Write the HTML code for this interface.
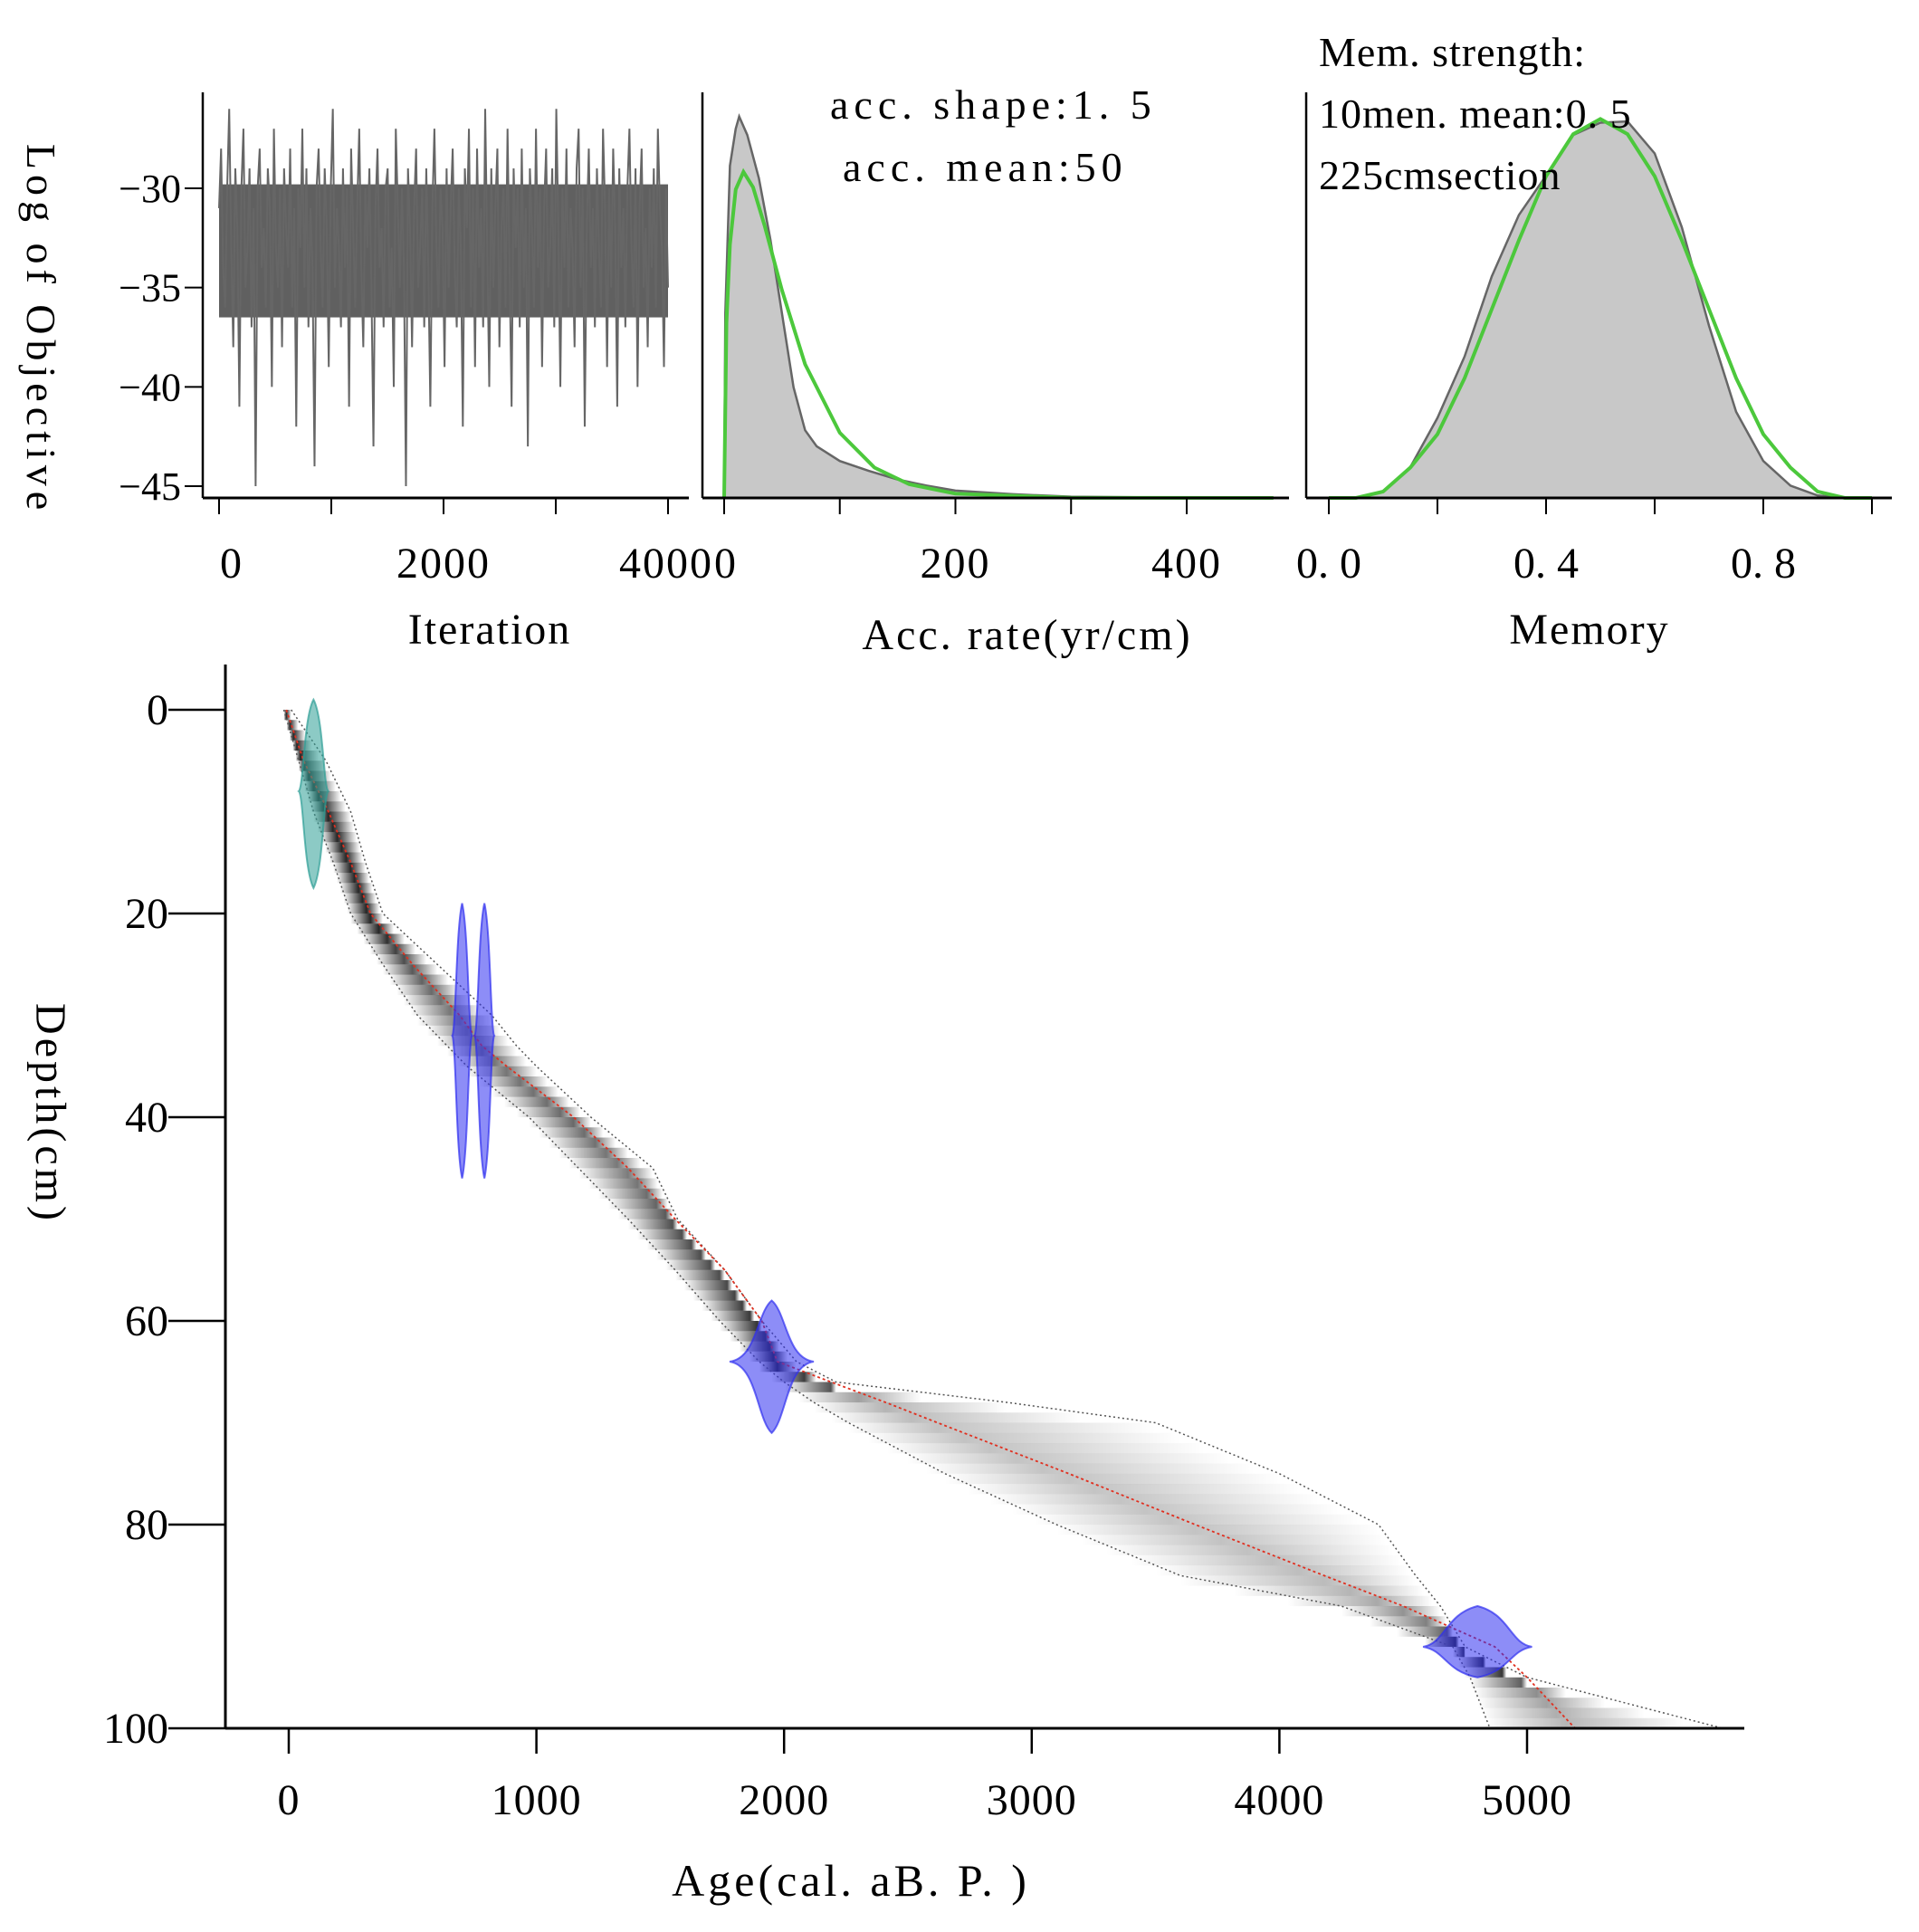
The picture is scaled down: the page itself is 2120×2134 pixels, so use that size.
<!DOCTYPE html>
<html><head><meta charset="utf-8"><style>
html,body{margin:0;padding:0;background:#fff}
svg{display:block;font-family:"Liberation Serif","Noto Serif CJK SC",serif}
</style></head><body>
<svg id="chart" width="2120" height="2134" viewBox="0 0 2120 2134" xmlns="http://www.w3.org/2000/svg">
<defs></defs>
<g id="p1"></g>
<g id="p2"></g>
<g id="p3"></g>
<g id="main"></g>
<text x="917" y="131" font-size="46" letter-spacing="6">acc. shape:1. 5</text>
<text x="931" y="200" font-size="46" letter-spacing="6">acc. mean:50</text>
<text x="1457" y="73" font-size="46" letter-spacing="1">Mem. strength:</text>
<text x="1457" y="141" font-size="46" letter-spacing="1">10men. mean:0. 5</text>
<text x="1457" y="209" font-size="46" letter-spacing="1">225cmsection</text>
<text x="541" y="711" font-size="48" text-anchor="middle" letter-spacing="2">Iteration</text>
<text x="1135" y="717" font-size="48" text-anchor="middle" letter-spacing="3">Acc. rate(yr/cm)</text>
<text x="1756" y="711" font-size="48" text-anchor="middle" letter-spacing="2">Memory</text>
<text transform="translate(30,364) rotate(90)" font-size="46" text-anchor="middle" letter-spacing="6">Log of Objective</text>
<text transform="translate(40,1230) rotate(90)" font-size="48" text-anchor="middle" letter-spacing="4">Depth(cm)</text>
<text x="940" y="2094" font-size="50" text-anchor="middle" letter-spacing="4">Age(cal. aB. P. )</text>
</svg>
<script>
const NS="http://www.w3.org/2000/svg";
// ---- data ----
const traceValues=[-31,-28,-34,-36,-30,-26,-33,-38,-29,-32,-41,-30,-27,-35,-33,-29,-37,-31,-45,-30,-28,-34,-32,-36,-29,-31,-40,-27,-33,-35,-30,-38,-29,-32,-34,-28,-36,-31,-42,-30,-33,-27,-35,-29,-37,-31,-34,-44,-30,-28,-33,-36,-29,-32,-39,-30,-26,-35,-31,-33,-37,-29,-34,-30,-41,-28,-32,-36,-31,-27,-34,-38,-30,-33,-29,-35,-43,-31,-28,-34,-32,-37,-30,-29,-36,-33,-40,-27,-31,-35,-30,-34,-45,-29,-32,-38,-31,-28,-35,-33,-30,-37,-29,-34,-41,-31,-27,-33,-36,-30,-32,-39,-29,-35,-31,-28,-34,-37,-30,-33,-42,-29,
-32,-27,-36,-30,-39,-28,-34,-31,-37,-26,-33,-40,-29,-35,-31,-28,-38,-32,-30,-36,-27,-34,-41,-29,-33,-30,-37,-28,-35,-31,-43,-29,-32,-36,-27,-34,-30,-39,-31,-28,-35,-33,-29,-37,-26,-32,-40,-30,-34,-28,-36,-31,-33,-38,-29,-27,-35,-30,-42,-32,-28,-34,-31,-37,-29,-33,-36,-27,-31,-39,-30,-35,-28,-32,-41,-29,-34,-31,-37,-30,-27,-33,-36,-29,-40,-31,-28,-35,-32,-38,-30,-34,-29,-36,-27,-31,-33,-39,-30,-35];
const accX=[0,1,5,10,13,20,30,40,50,60,70,80,100,125,150,175,200,250,300,400,475];
const accPost=[0,150,270,300,310,295,260,210,150,90,55,42,30,22,15,10,6,3,1,0.2,0];
const accPriorX=[0,2,5,10,16.7,25,35,50,70,100,130,160,200,300,475];
const accPrior=[0,0.537,0.777,0.946,1,0.953,0.835,0.637,0.41,0.2,0.093,0.042,0.013,0.0004,0];
const memX=[0,0.05,0.1,0.15,0.2,0.25,0.3,0.35,0.4,0.45,0.5,0.55,0.6,0.65,0.7,0.75,0.8,0.85,0.9,0.95,1.0];
const memPost=[0,0,5,25,65,115,180,230,262,295,305,306,280,220,140,70,30,10,2,0,0];
const memPrior=[0,0.0001,0.0168,0.08,0.168,0.316,0.498,0.68,0.849,0.96,1,0.96,0.849,0.68,0.498,0.316,0.168,0.08,0.0168,0.0001,0];
const depths=[0,5,10,15,20,25,30,33,35,40,45,50,55,60,64,66,68,70,75,80,85,88,92,95,100];
const ageMin=[-20,40,100,180,250,380,520,640,720,970,1170,1370,1560,1740,1900,2000,2120,2260,2650,3100,3600,4250,4700,4770,4850];
const ageMax=[10,150,250,310,380,600,820,920,1000,1220,1470,1570,1760,1910,2050,2210,2900,3500,4000,4400,4550,4650,4750,5000,5790];
const ageMean=[-10,60,160,250,330,500,690,780,880,1150,1370,1560,1760,1910,1973,2190,2410,2620,3150,3660,4180,4500,4870,5000,5194];
const depthTicks=[0,20,40,60,80,100];
const ageTicks=[0,1000,2000,3000,4000,5000];
const iterTicks=[0,1000,2000,3000,4000];
const iterLabels=[0,2000,4000];
const objTicks=[-30,-35,-40,-45];
const accTicks=[0,100,200,300,400];
const accLabels=[0,200,400];
const memTicks=[0,0.2,0.4,0.6,0.8,1.0];
const memLabels=["0. 0","0. 4","0. 8"];
const memLabelVals=[0,0.4,0.8];
const dates=[{age:100,depth:8,color:"#2e9e96",top:-1,bot:17.5,w:40,hw:60},
{age:700,depth:32,color:"#2f2ff0",top:19,bot:46,w:25,hw:40},
{age:790,depth:32,color:"#2f2ff0",top:19,bot:46,w:25,hw:40},
{age:1950,depth:64,color:"#2f2ff0",top:58,bot:71,w:60,hw:170},
{age:4800,depth:92,color:"#2f2ff0",top:88,bot:95,w:130,hw:220}];
// ---- scales ----
const iterX=v=>242+v*(738-242)/4000, objY=v=>208+(v+30)/-15*(537-208);
const accSX=v=>800+v*1.2775, accY=v=>550-v*1.359;
const memSX=v=>1468+v*600, memY=v=>550-v*1.359;
const ageX=v=>319+v*(1687-319)/5000, depY=v=>784+v*11.25;
function mk(tag,attrs,parent){const e=document.createElementNS(NS,tag);for(const k in attrs)e.setAttribute(k,attrs[k]);parent.appendChild(e);return e;}
const p1=document.getElementById('p1'),p2=document.getElementById('p2'),p3=document.getElementById('p3'),main=document.getElementById('main');
// panel 1
let e=mk('rect',{x:242,y:objY(-29.8),width:496,height:objY(-36.5)-objY(-29.8),fill:'#606060'},p1);


e=mk('polyline',{points:traceValues.map((v,i)=>iterX(i*4000/(traceValues.length-1))+','+objY(v)).join(' '),fill:'none',stroke:'#666','stroke-width':2},p1);


function axes(g,x0,x1,yTop,ticks,sx){
 mk('line',{x1:x0,y1:yTop,x2:x0,y2:550,stroke:'#000','stroke-width':2.5},g);
 mk('line',{x1:x0,y1:550,x2:x1,y2:550,stroke:'#000','stroke-width':3},g);
 ticks.forEach(t=>{const l=mk('line',{x1:sx(t),y1:550,x2:sx(t),y2:568,stroke:'#000','stroke-width':2},g);});
}
axes(p1,224,761,102,iterTicks,iterX);
iterLabels.forEach(t=>{const x=mk('text',{x:iterX(t)+(t==0?14:t==4000?-2:0),y:638,'font-size':48,'text-anchor':'middle','letter-spacing':2},p1);x.textContent=t;});
objTicks.forEach(t=>{mk('line',{x1:204,y1:objY(t),x2:224,y2:objY(t),stroke:'#000','stroke-width':2},p1);const x=mk('text',{x:200,y:objY(t)+15,'font-size':44,'text-anchor':'end'},p1);x.textContent='\u2212'+(-t);});
// panel 2
e=mk('polygon',{points:accX.map((v,i)=>accSX(v)+','+accY(accPost[i])).join(' '),fill:'#c8c8c8',stroke:'#666','stroke-width':2.5},p2);


e=mk('polyline',{points:accPriorX.map((v,i)=>accSX(v)+','+accY(accPrior[i]*265)).join(' '),fill:'none',stroke:'#4cc83c','stroke-width':4},p2);


axes(p2,776,1424,102,accTicks,accSX);
accLabels.forEach(t=>{const x=mk('text',{x:accSX(t)+(t==0?2:0),y:638,'font-size':48,'text-anchor':'middle','letter-spacing':2},p2);x.textContent=t;});
// panel 3
e=mk('polygon',{points:memX.map((v,i)=>memSX(v)+','+memY(memPost[i])).join(' '),fill:'#c8c8c8',stroke:'#666','stroke-width':2.5},p3);


e=mk('polyline',{points:memX.map((v,i)=>memSX(v)+','+memY(memPrior[i]*308)).join(' '),fill:'none',stroke:'#4cc83c','stroke-width':4},p3);


axes(p3,1443,2090,102,memTicks,memSX);
memLabelVals.forEach((t,i)=>{const x=mk('text',{x:memSX(t),y:638,'font-size':48,'text-anchor':'middle'},p3);x.textContent=memLabels[i];});
// main: density strips
const defs=document.querySelector('defs');
for(let d=0;d<100;d+=1){
 let i=0;while(i<depths.length-2&&depths[i+1]<=d)i++;
 const f=(d-depths[i])/(depths[i+1]-depths[i]);
 const lo=ageMin[i]+f*(ageMin[i+1]-ageMin[i]),hi=ageMax[i]+f*(ageMax[i+1]-ageMax[i]),mn=ageMean[i]+f*(ageMean[i+1]-ageMean[i]);
 const w=ageX(hi)-ageX(lo);const pk=Math.min(0.85,Math.max(0.22,30/w+0.15));
 const gid='g'+d;const gr=mk('linearGradient',{id:gid,x1:0,x2:1,y1:0,y2:0},defs);
 const c=Math.max(0.1,Math.min(0.9,(mn-lo)/(hi-lo)));
 [[0,0],[c*0.15,pk*0.15],[c*0.6,pk*0.6],[c,pk],[c+(1-c)*0.4,pk*0.6],[c+(1-c)*0.85,pk*0.15],[1,0]].forEach(s=>mk('stop',{offset:s[0],'stop-color':'#000','stop-opacity':s[1]},gr));
 const r=mk('rect',{x:ageX(lo),y:depY(d),width:w,height:11.3,fill:'url(#'+gid+')'},main);
 
 
}
e=mk('polyline',{points:depths.map((d,i)=>ageX(ageMin[i])+','+depY(d)).join(' '),fill:'none',stroke:'#555','stroke-width':1.5,'stroke-dasharray':'2 3'},main);


e=mk('polyline',{points:depths.map((d,i)=>ageX(ageMax[i])+','+depY(d)).join(' '),fill:'none',stroke:'#555','stroke-width':1.5,'stroke-dasharray':'2 3'},main);


e=mk('polyline',{points:depths.map((d,i)=>ageX(ageMean[i])+','+depY(d)).join(' '),fill:'none',stroke:'#e03020','stroke-width':1.8,'stroke-dasharray':'3 3'},main);


dates.forEach(dt=>{
 const cx=ageX(dt.age),cy=depY(dt.depth),t=depY(dt.top),b=depY(dt.bot),hw=(ageX(dt.age+dt.w)-cx),hh=(ageX(dt.age+dt.hw)-cx);
 const g=mk('g',{},main);
 
 
 mk('path',{d:`M${cx},${t} C${cx+hw},${t+(cy-t)*0.2} ${cx+hw},${cy-4} ${cx+hh},${cy} C${cx+hw},${cy+4} ${cx+hw},${b-(b-cy)*0.2} ${cx},${b} C${cx-hw},${b-(b-cy)*0.2} ${cx-hw},${cy+4} ${cx-hh},${cy} C${cx-hw},${cy-4} ${cx-hw},${t+(cy-t)*0.2} ${cx},${t}Z`,fill:dt.color,'fill-opacity':0.55,stroke:dt.color,'stroke-opacity':0.7,'stroke-width':2},g);
});
mk('line',{x1:249,y1:734,x2:249,y2:1909,stroke:'#000','stroke-width':3},main);
mk('line',{x1:249,y1:1909,x2:1927,y2:1909,stroke:'#000','stroke-width':3},main);
depthTicks.forEach(t=>{mk('line',{x1:186,y1:depY(t),x2:249,y2:depY(t),stroke:'#000','stroke-width':2.5},main);const x=mk('text',{x:186,y:depY(t)+16,'font-size':48,'text-anchor':'end'},main);x.textContent=t;});
ageTicks.forEach(t=>{mk('line',{x1:ageX(t),y1:1909,x2:ageX(t),y2:1937,stroke:'#000','stroke-width':2.5},main);const x=mk('text',{x:ageX(t),y:2004,'font-size':48,'text-anchor':'middle','letter-spacing':1},main);x.textContent=t;});
</script>
</body></html>
